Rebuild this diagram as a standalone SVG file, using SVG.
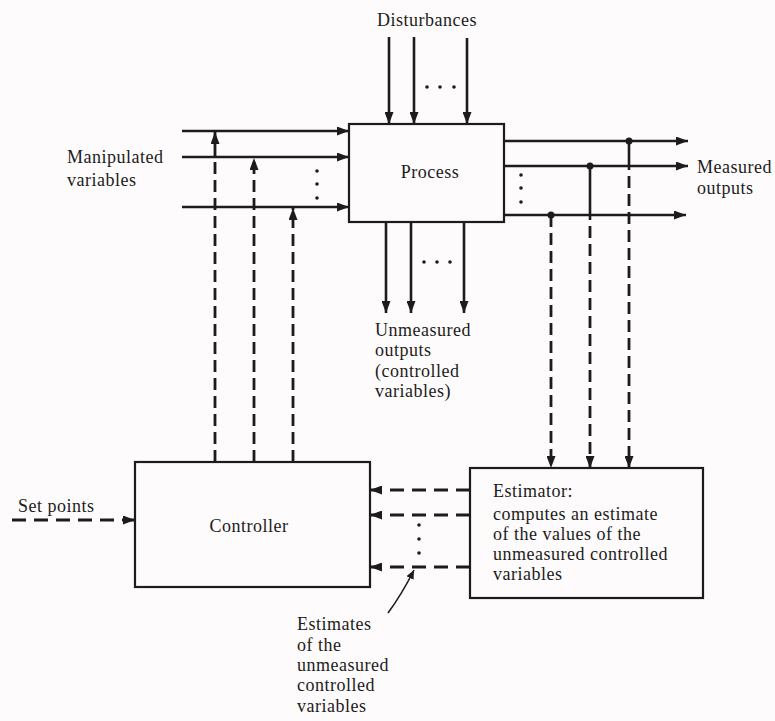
<svg xmlns="http://www.w3.org/2000/svg" width="775" height="721" viewBox="0 0 775 721">
<style>
  text { font-family: "Liberation Serif", "Times New Roman", serif; font-size: 18px; letter-spacing: 0.5px; fill: #1c1c1c; }
  .box { fill: none; stroke: #1c1c1c; stroke-width: 2.2; }
  .ln { fill: none; stroke: #1c1c1c; stroke-width: 2.6; }
  .dash { fill: none; stroke: #1c1c1c; stroke-width: 2.8; stroke-dasharray: 12 6; }
  .dashh { fill: none; stroke: #1c1c1c; stroke-width: 2.8; stroke-dasharray: 14 8; }
  .thin { fill: none; stroke: #1c1c1c; stroke-width: 1.6; }
  .dot { fill: #1c1c1c; }
</style>
<defs>
  <marker id="ah" markerUnits="userSpaceOnUse" markerWidth="13" markerHeight="9" refX="12" refY="4.5" orient="auto">
    <path d="M0,0 L12,4.5 L0,9 Z" fill="#1c1c1c"/>
  </marker>
  <marker id="ahs" markerUnits="userSpaceOnUse" markerWidth="10" markerHeight="8" refX="9" refY="4" orient="auto">
    <path d="M0,0 L9,4 L0,8 Z" fill="#1c1c1c"/>
  </marker>
</defs>
<rect x="0" y="0" width="775" height="721" fill="#fdfbfb"/>

<g id="connectors">
  <!-- disturbances -->
  <line class="ln" x1="389" y1="37" x2="389" y2="124" marker-end="url(#ah)"/>
  <line class="ln" x1="414" y1="37" x2="414" y2="124" marker-end="url(#ah)"/>
  <line class="ln" x1="467" y1="38" x2="467" y2="124" marker-end="url(#ah)"/>
  <!-- manipulated variables -->
  <line class="ln" x1="182" y1="131" x2="349" y2="131" marker-end="url(#ah)"/>
  <line class="ln" x1="182" y1="157" x2="349" y2="157" marker-end="url(#ah)"/>
  <line class="ln" x1="182" y1="207" x2="349" y2="207" marker-end="url(#ah)"/>
  <!-- controller outputs to manipulated variables -->
  <line class="dash" x1="215" y1="462" x2="215" y2="132" marker-end="url(#ah)"/>
  <line class="dash" x1="254" y1="462" x2="254" y2="158" marker-end="url(#ah)"/>
  <line class="dash" x1="293" y1="462" x2="293" y2="208" marker-end="url(#ah)"/>
  <!-- unmeasured outputs -->
  <line class="ln" x1="386" y1="222" x2="386" y2="313" marker-end="url(#ah)"/>
  <line class="ln" x1="411" y1="222" x2="411" y2="313" marker-end="url(#ah)"/>
  <line class="ln" x1="464" y1="222" x2="464" y2="313" marker-end="url(#ah)"/>
  <!-- measured outputs -->
  <line class="ln" x1="504" y1="141" x2="688" y2="141" marker-end="url(#ah)"/>
  <line class="ln" x1="504" y1="166" x2="688" y2="166" marker-end="url(#ah)"/>
  <line class="ln" x1="504" y1="215" x2="686" y2="215" marker-end="url(#ah)"/>
  <!-- taps to estimator -->
  <line class="ln" x1="629" y1="141" x2="629" y2="170"/>
  <line class="dash" x1="629" y1="176" x2="629" y2="468" marker-end="url(#ah)"/>
  <line class="ln" x1="590" y1="166" x2="590" y2="220"/>
  <line class="dash" x1="590" y1="226" x2="590" y2="468" marker-end="url(#ah)"/>
  <line class="dash" x1="551" y1="215" x2="551" y2="468" marker-end="url(#ah)"/>
  <circle class="dot" cx="629" cy="141" r="3.5"/>
  <circle class="dot" cx="590" cy="166" r="3.5"/>
  <circle class="dot" cx="551" cy="215" r="3.5"/>
  <!-- set points -->
  <line class="dashh" x1="12" y1="520" x2="135" y2="520" marker-end="url(#ah)"/>
  <!-- estimates to controller -->
  <line class="dashh" x1="470" y1="490" x2="370" y2="490" marker-end="url(#ah)"/>
  <line class="dashh" x1="470" y1="515" x2="370" y2="515" marker-end="url(#ah)"/>
  <line class="dashh" x1="470" y1="567" x2="370" y2="567" marker-end="url(#ah)"/>
  <!-- pointer -->
  <path class="thin" d="M388,613 Q402,594 414,570" marker-end="url(#ahs)"/>
</g>

<g id="ellipses" class="dot">
  <circle cx="427" cy="87" r="1.8"/><circle cx="440" cy="87" r="1.8"/><circle cx="454" cy="87" r="1.8"/>
  <circle cx="317" cy="171" r="1.8"/><circle cx="317" cy="184" r="1.8"/><circle cx="317" cy="198" r="1.8"/>
  <circle cx="521" cy="175" r="1.8"/><circle cx="521" cy="188" r="1.8"/><circle cx="521" cy="202" r="1.8"/>
  <circle cx="424" cy="262" r="1.8"/><circle cx="437" cy="262" r="1.8"/><circle cx="450" cy="262" r="1.8"/>
  <circle cx="419" cy="525" r="1.8"/><circle cx="419" cy="539" r="1.8"/><circle cx="419" cy="553" r="1.8"/>
</g>

<g id="process">
  <rect class="box" x="349" y="124" width="155" height="98"/>
  <text x="430" y="178" text-anchor="middle">Process</text>
</g>

<g id="controller">
  <rect class="box" x="135" y="462" width="235" height="125"/>
  <text x="249" y="532" text-anchor="middle">Controller</text>
</g>

<g id="estimator">
  <rect class="box" x="470" y="468" width="233" height="130"/>
  <text x="493" y="497">Estimator:</text>
  <text x="493" y="520">computes an estimate</text>
  <text x="493" y="540">of the values of the</text>
  <text x="493" y="560">unmeasured controlled</text>
  <text x="493" y="580">variables</text>
</g>

<g id="label-disturbances">
  <text x="427" y="26" text-anchor="middle">Disturbances</text>
</g>
<g id="label-manipulated">
  <text x="67" y="163">Manipulated</text>
  <text x="67" y="186">variables</text>
</g>
<g id="label-measured">
  <text x="697" y="173">Measured</text>
  <text x="697" y="194">outputs</text>
</g>
<g id="label-unmeasured">
  <text x="375" y="336">Unmeasured</text>
  <text x="375" y="356">outputs</text>
  <text x="375" y="377">(controlled</text>
  <text x="375" y="397">variables)</text>
</g>
<g id="label-setpoints">
  <text x="18" y="512">Set points</text>
</g>
<g id="label-estimates">
  <text x="297" y="630">Estimates</text>
  <text x="297" y="651">of the</text>
  <text x="297" y="671">unmeasured</text>
  <text x="297" y="691">controlled</text>
  <text x="297" y="712">variables</text>
</g>
</svg>
